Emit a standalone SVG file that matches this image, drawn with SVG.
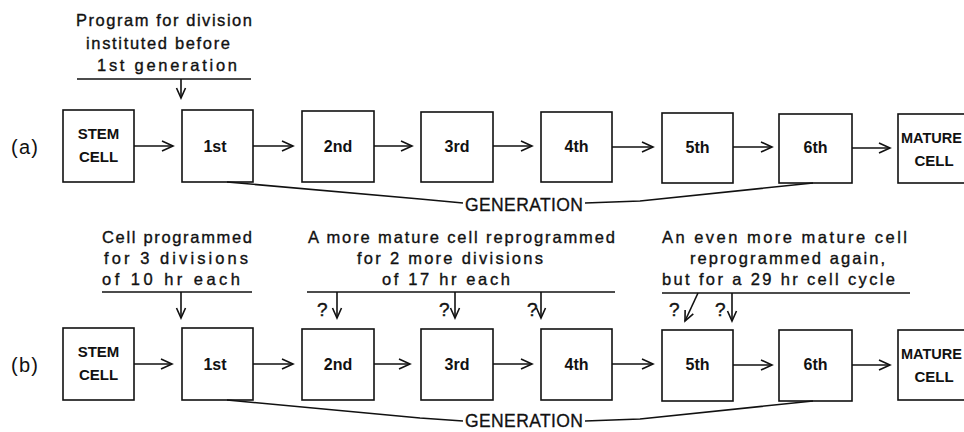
<svg xmlns="http://www.w3.org/2000/svg" width="964" height="432" viewBox="0 0 964 432">
  <style>
    .box { fill: #fff; stroke: #111; stroke-width: 1.6; }
    .ln { fill: none; stroke: #111; stroke-width: 1.6; }
    .note { font-family: "Liberation Sans", Arial, sans-serif; font-size: 16.5px; fill: #111; stroke: #111; stroke-width: 0.35; }
    .lbl { font-family: "Liberation Sans", Arial, sans-serif; font-size: 15px; font-weight: bold; fill: #111; text-anchor: middle; }
    .ord { font-family: "Liberation Sans", Arial, sans-serif; font-size: 16px; font-weight: bold; fill: #111; text-anchor: middle; }
    .gen { font-family: "Liberation Sans", Arial, sans-serif; font-size: 17.5px; fill: #111; stroke: #111; stroke-width: 0.3; }
    .tag { font-family: "Liberation Sans", Arial, sans-serif; font-size: 20px; fill: #111; }
    .q { font-family: "Liberation Sans", Arial, sans-serif; font-size: 19px; fill: #111; stroke: #111; stroke-width: 0.4; }
  </style>
  <defs>
    <marker id="head" markerUnits="userSpaceOnUse" markerWidth="14" markerHeight="14" refX="11" refY="5" orient="auto" overflow="visible">
      <path d="M0,0 L11,5 L0,10" fill="none" stroke="#111" stroke-width="1.6"/>
    </marker>
    <marker id="tip" markerUnits="userSpaceOnUse" markerWidth="12" markerHeight="12" refX="10" refY="4.5" orient="auto" overflow="visible">
      <path d="M0,0 L10,4.5 L0,9" fill="none" stroke="#111" stroke-width="1.6"/>
    </marker>
  </defs>
  <rect width="964" height="432" fill="#fff"/>

  <!-- row labels -->
  <text class="tag" x="11" y="154" textLength="27" lengthAdjust="spacing">(a)</text>
  <text class="tag" x="11" y="372" textLength="27" lengthAdjust="spacing">(b)</text>

  <!-- annotations, row (a) -->
  <g id="note-a">
    <text class="note" x="76" y="26" textLength="176" lengthAdjust="spacing">Program for division</text>
    <text class="note" x="86" y="49" textLength="144" lengthAdjust="spacing">instituted before</text>
    <text class="note" x="97" y="71" textLength="140" lengthAdjust="spacing">1st generation</text>
  </g>

  <!-- annotations, row (b) -->
  <g id="note-b1">
    <text class="note" x="102" y="243" textLength="150" lengthAdjust="spacing">Cell programmed</text>
    <text class="note" x="104" y="264" textLength="144" lengthAdjust="spacing">for  3 divisions</text>
    <text class="note" x="102" y="285" textLength="138" lengthAdjust="spacing">of 10 hr each</text>
  </g>
  <g id="note-b2">
    <text class="note" x="308" y="243" textLength="307" lengthAdjust="spacing">A more mature cell reprogrammed</text>
    <text class="note" x="357" y="264" textLength="186" lengthAdjust="spacing">for 2 more divisions</text>
    <text class="note" x="382" y="285" textLength="128" lengthAdjust="spacing">of 17 hr each</text>
    <text class="q" x="317" y="316">?</text>
    <text class="q" x="439" y="316">?</text>
    <text class="q" x="527" y="316">?</text>
  </g>
  <g id="note-b3">
    <text class="note" x="662" y="243" textLength="245" lengthAdjust="spacing">An  even more mature cell</text>
    <text class="note" x="690" y="264" textLength="195" lengthAdjust="spacing">reprogrammed again,</text>
    <text class="note" x="662" y="285" textLength="233" lengthAdjust="spacing">but for a 29 hr cell cycle</text>
    <text class="q" x="669" y="316">?</text>
    <text class="q" x="715" y="316">?</text>
  </g>

  <!-- row (a) nodes -->
  <g id="a-stem"><rect class="box" x="63" y="110" width="71" height="72"/><text class="lbl" x="98.5" y="139">STEM</text><text class="lbl" x="98.5" y="162">CELL</text></g>
  <g id="a-g1"><rect class="box" x="182" y="110" width="71" height="72"/><text class="ord" x="215" y="152">1st</text></g>
  <g id="a-g2"><rect class="box" x="302" y="111" width="72" height="71"/><text class="ord" x="338" y="152">2nd</text></g>
  <g id="a-g3"><rect class="box" x="421" y="112" width="72" height="70"/><text class="ord" x="457" y="152">3rd</text></g>
  <g id="a-g4"><rect class="box" x="541" y="112" width="71" height="70"/><text class="ord" x="576.5" y="152">4th</text></g>
  <g id="a-g5"><rect class="box" x="662" y="113" width="71" height="70"/><text class="ord" x="697.5" y="153">5th</text></g>
  <g id="a-g6"><rect class="box" x="779" y="114" width="73" height="69"/><text class="ord" x="815.5" y="153">6th</text></g>
  <g id="a-mature"><rect class="box" x="898" y="114" width="74" height="69"/><text class="lbl" x="901" y="143" textLength="61" lengthAdjust="spacingAndGlyphs" style="text-anchor:start">MATURE</text><text class="lbl" x="934" y="166">CELL</text></g>

  <!-- row (b) nodes -->
  <g id="b-stem"><rect class="box" x="63" y="328" width="71" height="72"/><text class="lbl" x="98.5" y="357">STEM</text><text class="lbl" x="98.5" y="380">CELL</text></g>
  <g id="b-g1"><rect class="box" x="182" y="328" width="71" height="72"/><text class="ord" x="215" y="370">1st</text></g>
  <g id="b-g2"><rect class="box" x="302" y="329" width="72" height="71"/><text class="ord" x="338" y="370">2nd</text></g>
  <g id="b-g3"><rect class="box" x="421" y="329" width="72" height="71"/><text class="ord" x="457" y="370">3rd</text></g>
  <g id="b-g4"><rect class="box" x="541" y="329" width="71" height="71"/><text class="ord" x="576.5" y="370">4th</text></g>
  <g id="b-g5"><rect class="box" x="662" y="330" width="71" height="71"/><text class="ord" x="697.5" y="370">5th</text></g>
  <g id="b-g6"><rect class="box" x="779" y="330" width="73" height="71"/><text class="ord" x="815.5" y="370">6th</text></g>
  <g id="b-mature"><rect class="box" x="898" y="330" width="74" height="70"/><text class="lbl" x="901" y="359" textLength="61" lengthAdjust="spacingAndGlyphs" style="text-anchor:start">MATURE</text><text class="lbl" x="934" y="382">CELL</text></g>

  <!-- generation brackets -->
  <g id="gen-a">
    <text class="gen" x="465" y="211" textLength="118" lengthAdjust="spacing">GENERATION</text>
  </g>
  <g id="gen-b">
    <text class="gen" x="465" y="427" textLength="118" lengthAdjust="spacing">GENERATION</text>
  </g>

  <g id="connectors">
    <!-- row (a) flow -->
    <line class="ln" x1="134" y1="146" x2="173" y2="146" marker-end="url(#head)"/>
    <line class="ln" x1="253" y1="146" x2="293" y2="146" marker-end="url(#head)"/>
    <line class="ln" x1="374" y1="146" x2="412" y2="146" marker-end="url(#head)"/>
    <line class="ln" x1="493" y1="146" x2="532" y2="146" marker-end="url(#head)"/>
    <line class="ln" x1="612" y1="147" x2="653" y2="147" marker-end="url(#head)"/>
    <line class="ln" x1="733" y1="147" x2="772" y2="147" marker-end="url(#head)"/>
    <line class="ln" x1="852" y1="148" x2="890" y2="148" marker-end="url(#head)"/>
    <!-- row (b) flow -->
    <line class="ln" x1="134" y1="364" x2="172" y2="364" marker-end="url(#head)"/>
    <line class="ln" x1="253" y1="364" x2="293" y2="364" marker-end="url(#head)"/>
    <line class="ln" x1="374" y1="364" x2="410" y2="364" marker-end="url(#head)"/>
    <line class="ln" x1="493" y1="364" x2="532" y2="364" marker-end="url(#head)"/>
    <line class="ln" x1="612" y1="364" x2="653" y2="364" marker-end="url(#head)"/>
    <line class="ln" x1="733" y1="365" x2="772" y2="365" marker-end="url(#head)"/>
    <line class="ln" x1="852" y1="365" x2="890" y2="365" marker-end="url(#head)"/>

    <!-- programming bars and their arrows -->
    <line class="ln" x1="77" y1="79" x2="251" y2="79"/>
    <line class="ln" x1="181" y1="79" x2="181" y2="98" marker-end="url(#tip)"/>

    <line class="ln" x1="102" y1="292" x2="252" y2="292"/>
    <line class="ln" x1="181" y1="292" x2="181" y2="318" marker-end="url(#tip)"/>

    <line class="ln" x1="307" y1="292" x2="615" y2="292"/>
    <line class="ln" x1="337" y1="292" x2="337" y2="318" marker-end="url(#tip)"/>
    <line class="ln" x1="455" y1="292" x2="455" y2="318" marker-end="url(#tip)"/>
    <line class="ln" x1="541" y1="292" x2="541" y2="318" marker-end="url(#tip)"/>

    <line class="ln" x1="662" y1="293" x2="910" y2="293"/>
    <line class="ln" x1="698" y1="293" x2="685" y2="321" marker-end="url(#tip)"/>
    <line class="ln" x1="732" y1="293" x2="732" y2="321" marker-end="url(#tip)"/>

    <!-- generation bracket lines -->
    <polyline class="ln" points="227,182 420,199 463,203"/>
    <polyline class="ln" points="585,203 640,201 813,183"/>
    <polyline class="ln" points="227,400 420,418 463,421"/>
    <polyline class="ln" points="585,421 640,419 813,401"/>
  </g>
</svg>
